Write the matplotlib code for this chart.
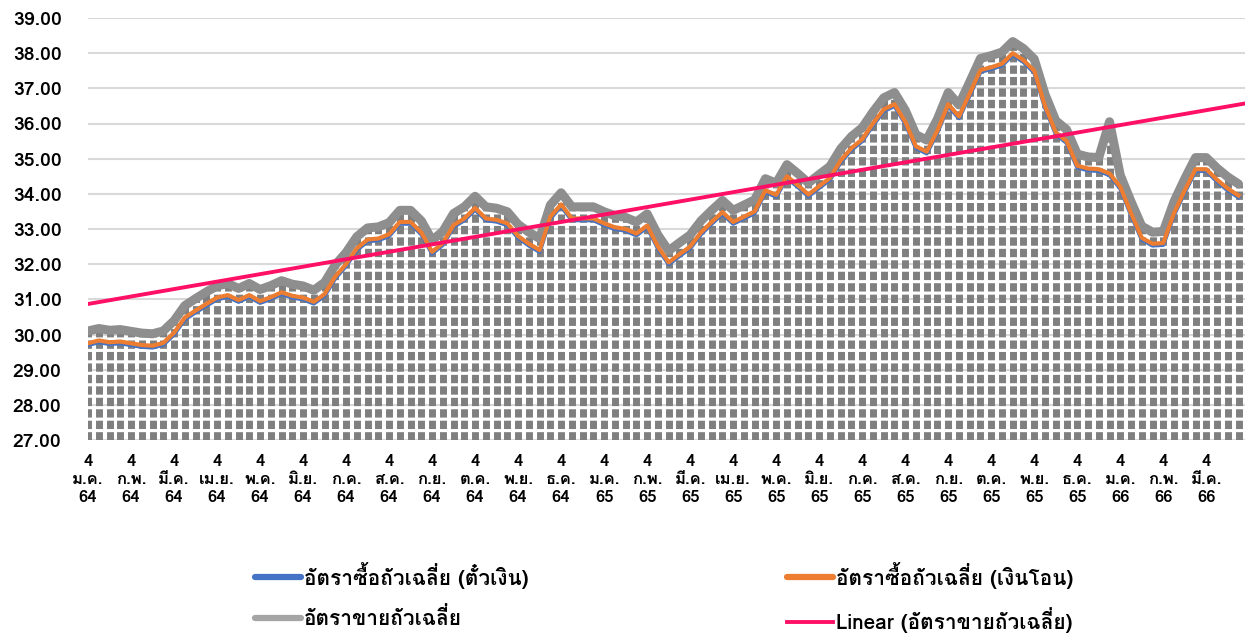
import matplotlib
matplotlib.use("Agg")
import matplotlib.pyplot as plt
from matplotlib.lines import Line2D
import numpy as np

months = ["ม.ค.", "ก.พ.", "มี.ค.", "เม.ย.", "พ.ค.", "มิ.ย.", "ก.ค.", "ส.ค.", "ก.ย.", "ต.ค.", "พ.ย.", "ธ.ค."]
labels = (["4\n" + m + "\n64" for m in months] + ["4\n" + m + "\n65" for m in months]
          + ["4\n" + m + "\n66" for m in months[:3]])

# weekly readings (4 per month, from 4 Jan 64)
buy_tt = [29.75, 29.83, 29.78, 29.80, 29.75, 29.70, 29.68, 29.76, 30.05, 30.48, 30.68, 30.87,
          31.05, 31.12, 30.98, 31.12, 30.95, 31.06, 31.20, 31.10, 31.05, 30.93, 31.15, 31.65,
          32.00, 32.45, 32.70, 32.73, 32.85, 33.20, 33.20, 32.90, 32.35, 32.60, 33.11, 33.30,
          33.60, 33.30, 33.26, 33.16, 32.80, 32.58, 32.40, 33.35, 33.70, 33.30, 33.30, 33.30,
          33.16, 33.05, 33.00, 32.87, 33.10, 32.50, 32.05, 32.28, 32.50, 32.90, 33.20, 33.48,
          33.20, 33.35, 33.50, 34.10, 33.97, 34.50, 34.25, 33.98, 34.22, 34.45, 34.95, 35.30,
          35.55, 36.00, 36.40, 36.55, 36.05, 35.35, 35.20, 35.80, 36.55, 36.20, 36.85, 37.52,
          37.60, 37.70, 38.00, 37.80, 37.50, 36.50, 35.75, 35.50, 34.80, 34.72, 34.70, 34.58,
          34.20, 33.45, 32.75, 32.58, 32.60, 33.45, 34.10, 34.70, 34.70, 34.40, 34.15, 33.95]

buy_bill = [29.70, 29.78, 29.73, 29.75, 29.70, 29.65, 29.63, 29.71, 30.00, 30.43, 30.63, 30.82,
            31.00, 31.07, 30.93, 31.07, 30.90, 31.01, 31.15, 31.05, 31.00, 30.88, 31.10, 31.60,
            31.95, 32.40, 32.65, 32.68, 32.80, 33.15, 33.15, 32.85, 32.30, 32.55, 33.06, 33.25,
            33.55, 33.25, 33.21, 33.11, 32.75, 32.53, 32.35, 33.30, 33.65, 33.25, 33.25, 33.25,
            33.11, 33.00, 32.95, 32.82, 33.05, 32.45, 32.00, 32.23, 32.45, 32.85, 33.15, 33.43,
            33.15, 33.30, 33.45, 34.05, 33.92, 34.45, 34.20, 33.93, 34.17, 34.40, 34.90, 35.25,
            35.50, 35.95, 36.35, 36.50, 36.00, 35.30, 35.15, 35.75, 36.50, 36.15, 36.80, 37.47,
            37.55, 37.65, 37.95, 37.75, 37.45, 36.45, 35.70, 35.45, 34.75, 34.67, 34.65, 34.53,
            34.15, 33.40, 32.70, 32.53, 32.55, 33.40, 34.05, 34.65, 34.65, 34.35, 34.10, 33.90]

sell = [30.10, 30.17, 30.12, 30.14, 30.09, 30.04, 30.02, 30.10, 30.39, 30.82, 31.02, 31.21,
        31.38, 31.45, 31.31, 31.45, 31.28, 31.39, 31.53, 31.43, 31.38, 31.26, 31.48, 31.98,
        32.33, 32.78, 33.03, 33.06, 33.18, 33.53, 33.53, 33.23, 32.68, 32.93, 33.44, 33.63,
        33.93, 33.63, 33.59, 33.49, 33.13, 32.91, 32.73, 33.68, 34.03, 33.63, 33.63, 33.63,
        33.49, 33.38, 33.33, 33.20, 33.43, 32.83, 32.38, 32.61, 32.83, 33.23, 33.53, 33.81,
        33.53, 33.68, 33.83, 34.43, 34.30, 34.83, 34.58, 34.31, 34.55, 34.78, 35.28, 35.63,
        35.88, 36.33, 36.73, 36.88, 36.38, 35.68, 35.53, 36.13, 36.88, 36.53, 37.18, 37.85,
        37.93, 38.03, 38.33, 38.13, 37.83, 36.83, 36.08, 35.83, 35.13, 35.05, 35.03, 36.05,
        34.53, 33.78, 33.08, 32.91, 32.93, 33.78, 34.43, 35.03, 35.03, 34.73, 34.48, 34.28]

plt.rcParams["font.family"] = ["Loma", "DejaVu Sans"]
plt.rcParams["font.weight"] = "bold"

x = np.arange(len(sell)) / 4
fit = np.polyfit(x, sell, 1)
xt = np.array([0, 26.9])

fig = plt.figure(figsize=(12.48, 6.39), dpi=100)
ax = fig.add_axes([88/1248, 1 - 440/639, 1157/1248, 422/639])

ax.vlines(x, 27, sell, colors="#7f7f7f", linewidth=5, linestyles=(0, (1.2, 0.45)), zorder=2)
ax.plot(x, buy_bill, color="#4472C4", lw=3, zorder=4)
ax.plot(x, sell, color="#8E8E8E", lw=6.5, zorder=3, solid_capstyle="round", solid_joinstyle="round")
ax.plot(x, buy_tt, color="#ED7D31", lw=3, zorder=5)
ax.plot(xt, np.polyval(fit, xt), color="#FF1066", lw=2.8, zorder=6)

ax.set_ylim(27, 39)
ax.set_xlim(0, 26.9)
ax.set_yticks(np.arange(27, 40, 1))
ax.set_yticklabels(["%.2f" % v for v in np.arange(27, 40, 1)], fontsize=14, fontweight="bold")
ax.set_xticks(np.arange(len(labels)))
ax.set_xticklabels(labels, fontsize=12, fontweight="bold", linespacing=1.25)
ax.tick_params(axis="y", length=0, pad=19)
ax.tick_params(axis="x", length=0, pad=10)
ax.grid(axis="y", color="#D9D9D9", lw=1.5, zorder=0)
for s in ax.spines.values():
    s.set_visible(False)

handles = [Line2D([], [], color="#4472C4", lw=4.5, solid_capstyle="round"),
           Line2D([], [], color="#A5A5A5", lw=4.5, solid_capstyle="round"),
           Line2D([], [], color="#ED7D31", lw=4.5, solid_capstyle="round"),
           Line2D([], [], color="#FF1066", lw=2.8)]
fig.legend(handles,
           ["อัตราซื้อถัวเฉลี่ย (ตั๋วเงิน)", "อัตราขายถัวเฉลี่ย",
            "อัตราซื้อถัวเฉลี่ย (เงินโอน)", "Linear (อัตราขายถัวเฉลี่ย)"],
           ncol=2, loc="center", bbox_to_anchor=(0.532, 0.065), frameon=False,
           prop={"size": 15, "weight": "bold"}, handlelength=2.2, handletextpad=0.15,
           columnspacing=12.4, labelspacing=0.9)

fig.savefig("out.png", dpi=100)
